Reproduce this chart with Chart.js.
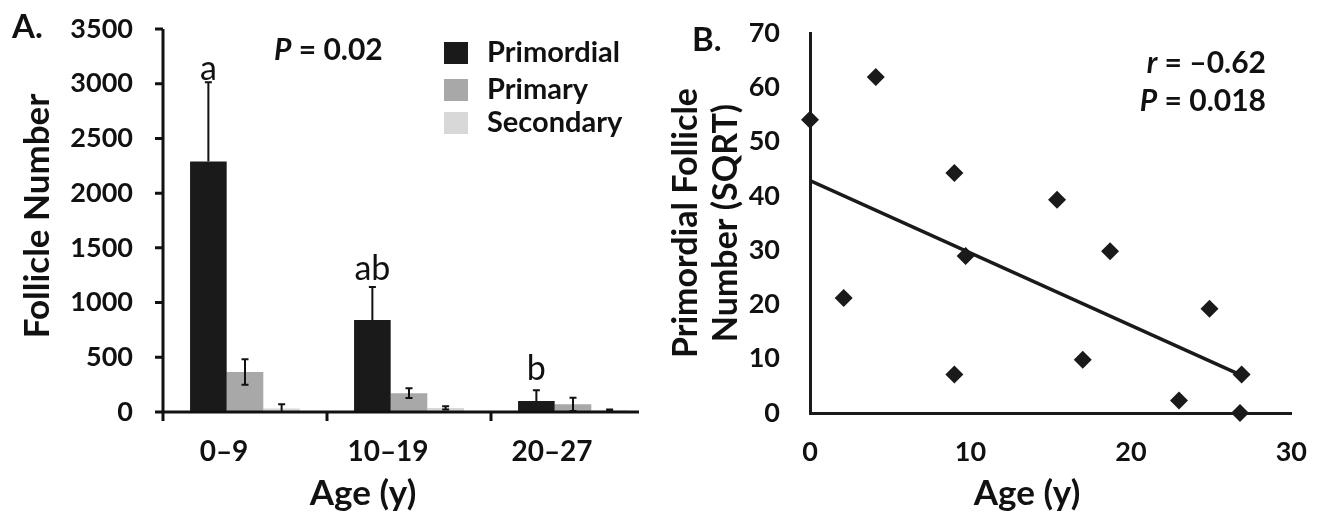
<!DOCTYPE html>
<html>
<head>
<meta charset="utf-8">
<script src="https://cdn.jsdelivr.net/npm/chart.js@4.4.1/dist/chart.umd.min.js"></script>
<style>
  body { margin: 0; background: #fff; }
  #wrap { display: flex; width: 1330px; height: 517px; }
  .box { position: relative; height: 517px; }
</style>
</head>
<body>
<div id="wrap">
  <div class="box" style="width:660px"><canvas id="graficoA"></canvas></div>
  <div class="box" style="width:670px"><canvas id="graficoB"></canvas></div>
</div>
<script>
// Painel A - folículos por faixa etária
const faixas = ['0–9', '10–19', '20–27'];
const primordial = [2290, 840, 100];
const primordialErro = [723, 302, 98];
const primary = [366, 172, 70];
const primaryErro = [116, 44, 60];
const secondary = [33, 37, 16];
const secondaryErro = [37, 15, 6];
const letras = ['a', 'ab', 'b'];
const letrasY = [3130, 1310, 390];
const ticksA = [0, 500, 1000, 1500, 2000, 2500, 3000, 3500];

// Painel B - idade x folículos primordiais (raiz quadrada)
const idade = [0, 2.1, 4.1, 9.0, 9.0, 9.7, 15.4, 17.0, 18.7, 23.0, 24.9, 26.9, 26.8];
const sqrtPrimordial = [54, 21.2, 61.9, 44.2, 7.1, 28.9, 39.3, 9.8, 29.8, 2.3, 19.2, 7.1, 0];
const tendenciaX = [0, 27];
const tendenciaY = [42.8, 6.8];

const COR = '#111';
Chart.defaults.font.family = 'Lato';
Chart.defaults.color = COR;

function escreve(ctx, partes, x, y, align) {
  ctx.save();
  ctx.fillStyle = COR;
  ctx.textBaseline = 'middle';
  ctx.textAlign = 'left';
  let total = 0;
  partes.forEach(p => { ctx.font = p[1]; total += ctx.measureText(p[0]).width; });
  let cx = align === 'right' ? x - total : align === 'center' ? x - total / 2 : x;
  partes.forEach(p => {
    ctx.font = p[1];
    ctx.fillText(p[0], cx, y);
    cx += ctx.measureText(p[0]).width;
  });
  ctx.restore();
}

function escreveVertical(ctx, str, font, x, y) {
  ctx.save();
  ctx.translate(x, y);
  ctx.rotate(-Math.PI / 2);
  ctx.font = font;
  ctx.fillStyle = COR;
  ctx.textAlign = 'center';
  ctx.textBaseline = 'middle';
  ctx.fillText(str, 0, 0);
  ctx.restore();
}

// largura fixa do eixo y, sem a folga extra que o Chart.js soma em cima/embaixo
function fixaEixoY(largura) {
  return s => {
    s.width = largura;
    s.paddingTop = 0;
    s.paddingBottom = 0;
  };
}

const erros = [primordialErro, primaryErro, secondaryErro];

const extrasA = {
  id: 'extrasA',
  afterDatasetsDraw(chart) {
    const ctx = chart.ctx;
    const x = chart.scales.x, y = chart.scales.y;
    const area = chart.chartArea;
    ctx.save();
    ctx.strokeStyle = COR;
    ctx.lineWidth = 3;
    // eixos
    ctx.beginPath();
    ctx.moveTo(area.left, area.top);
    ctx.lineTo(area.left, area.bottom);
    ctx.moveTo(area.left - 8, area.bottom);
    ctx.lineTo(area.right - 16, area.bottom);
    ticksA.forEach(v => {
      const py = y.getPixelForValue(v);
      ctx.moveTo(area.left - 8, py);
      ctx.lineTo(area.left, py);
    });
    const larg = (x.getPixelForValue(1) - x.getPixelForValue(0));
    faixas.forEach((f, i) => {
      const px = x.getPixelForValue(i) - larg / 2;
      ctx.moveTo(px, area.bottom);
      ctx.lineTo(px, area.bottom + 9);
    });
    ctx.stroke();

    // barras de erro (a parte de baixo some dentro das barras pretas)
    ctx.lineWidth = 2;
    chart.data.datasets.forEach((ds, d) => {
      const meta = chart.getDatasetMeta(d);
      meta.data.forEach((bar, i) => {
        const topo = y.getPixelForValue(ds.data[i] + erros[d][i]);
        const base = d === 0 ? bar.y : y.getPixelForValue(Math.max(0, ds.data[i] - erros[d][i]));
        ctx.beginPath();
        ctx.moveTo(bar.x, topo);
        ctx.lineTo(bar.x, base);
        ctx.moveTo(bar.x - 3.5, topo);
        ctx.lineTo(bar.x + 3.5, topo);
        if (d > 0 && ds.data[i] - erros[d][i] > 0) {
          ctx.moveTo(bar.x - 3.5, base);
          ctx.lineTo(bar.x + 3.5, base);
        }
        ctx.stroke();
      });
    });
    ctx.restore();

    // letras de significância
    const metaP = chart.getDatasetMeta(0);
    letras.forEach((l, i) => {
      escreve(ctx, [[l, '400 34px Lato']], metaP.data[i].x, y.getPixelForValue(letrasY[i]), 'center');
    });

    // legenda
    chart.data.datasets.forEach((ds, d) => {
      const cy = [53, 90, 123][d];
      ctx.fillStyle = ds.backgroundColor;
      ctx.fillRect(444, cy - 11, 24, 22);
      escreve(ctx, [[ds.label, 'bold 29px Lato']], 487, cy, 'left');
    });

    escreve(ctx, [['P', 'italic bold 30px Lato'], [' = 0.02', 'bold 30px Lato']], 274, 50, 'left');
    escreve(ctx, [['A.', 'bold 33px Lato']], 12, 27, 'left');
    escreveVertical(ctx, 'Follicle Number', 'bold 35px Lato', 38, 216);
    escreve(ctx, [['Age (y)', 'bold 35px Lato']], 363, 494, 'center');
  }
};

new Chart(document.getElementById('graficoA'), {
  type: 'bar',
  data: {
    labels: faixas,
    datasets: [
      { label: 'Primordial', data: primordial, backgroundColor: '#1a1a1a' },
      { label: 'Primary', data: primary, backgroundColor: '#a8a8a8' },
      { label: 'Secondary', data: secondary, backgroundColor: '#d8d8d8' }
    ]
  },
  options: {
    responsive: true,
    maintainAspectRatio: false,
    animation: false,
    layout: { padding: { top: 29, right: 5, left: 0, bottom: 0 } },
    datasets: { bar: { categoryPercentage: 0.67, barPercentage: 1.0 } },
    plugins: { legend: { display: false }, tooltip: { enabled: false } },
    scales: {
      x: {
        offset: true,
        grid: { display: false, drawTicks: false },
        border: { display: false },
        ticks: { font: { size: 28, weight: 'bold' }, padding: 23, labelOffset: -21 },
        afterFit: s => { s.height = 105; }
      },
      y: {
        min: 0,
        max: 3500,
        grid: { display: false, drawTicks: false },
        border: { display: false },
        ticks: { stepSize: 500, font: { size: 27, weight: 'bold' }, padding: 30, callback: v => String(v) },
        afterFit: fixaEixoY(163)
      }
    }
  },
  plugins: [extrasA]
});

const extrasB = {
  id: 'extrasB',
  afterDraw(chart) {
    const ctx = chart.ctx;
    escreve(ctx, [['B.', 'bold 33px Lato']], 32, 40, 'left');
    escreve(ctx, [['r', 'italic bold 30px Lato'], [' = –0.62', 'bold 30px Lato']], 606, 63, 'right');
    escreve(ctx, [['P', 'italic bold 30px Lato'], [' = 0.018', 'bold 30px Lato']], 606, 101, 'right');
    escreveVertical(ctx, 'Primordial Follicle', 'bold 34px Lato', 26, 223);
    escreveVertical(ctx, 'Number (SQRT)', 'bold 34px Lato', 66, 223);
    escreve(ctx, [['Age (y)', 'bold 35px Lato']], 367, 494, 'center');
  }
};

new Chart(document.getElementById('graficoB'), {
  type: 'scatter',
  data: {
    datasets: [
      {
        label: 'SQRT',
        data: idade.map((v, i) => ({ x: v, y: sqrtPrimordial[i] })),
        pointStyle: 'rectRot',
        pointRadius: 9,
        pointBackgroundColor: '#1a1a1a',
        pointBorderWidth: 0,
        clip: false
      },
      {
        type: 'line',
        label: 'Tendência',
        data: tendenciaX.map((v, i) => ({ x: v, y: tendenciaY[i] })),
        borderColor: '#1a1a1a',
        borderWidth: 3.5,
        pointRadius: 0,
        fill: false
      }
    ]
  },
  options: {
    responsive: true,
    maintainAspectRatio: false,
    animation: false,
    layout: { padding: { top: 33, right: 28, left: 0, bottom: 0 } },
    plugins: { legend: { display: false }, tooltip: { enabled: false } },
    scales: {
      x: {
        type: 'linear',
        min: 0,
        max: 30,
        grid: { display: false, drawTicks: false },
        border: { display: true, width: 3, color: '#1a1a1a' },
        ticks: { stepSize: 10, font: { size: 27, weight: 'bold' }, padding: 23 },
        afterFit: s => { s.height = 104; }
      },
      y: {
        min: 0,
        max: 70,
        grid: { display: false, drawTicks: false },
        border: { display: true, width: 3, color: '#1a1a1a' },
        ticks: { stepSize: 10, font: { size: 27, weight: 'bold' }, padding: 30 },
        afterFit: fixaEixoY(150)
      }
    }
  },
  plugins: [extrasB]
});
</script>
</body>
</html>
